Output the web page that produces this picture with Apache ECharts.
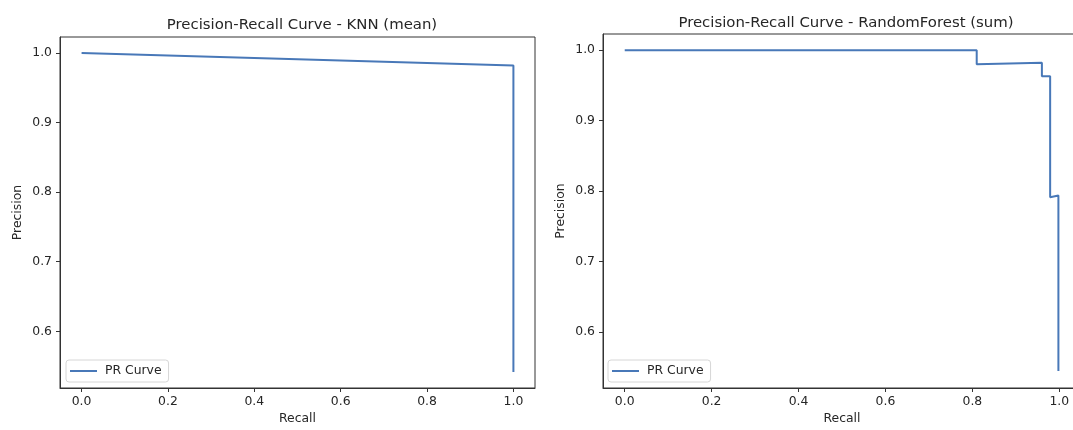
<!DOCTYPE html>
<html>
<head>
<meta charset="utf-8">
<script src="https://cdn.jsdelivr.net/npm/echarts@6/dist/echarts.min.js"></script>
<style>
  html, body { margin: 0; padding: 0; background: #fff; overflow: hidden; width: 1073px; height: 430px; }
  #chart { width: 1090px; height: 430px; }
</style>
</head>
<body>
<div id="chart"></div>
<script>
// Data
const knnRecall = [0.0, 1.0, 1.0];
const knnPrecision = [1.0, 0.982, 0.5415];

const rfRecall = [0.0, 0.81, 0.81, 0.96, 0.96, 0.979, 0.979, 0.998, 0.998];
const rfPrecision = [1.0, 1.0, 0.980, 0.982, 0.963, 0.963, 0.791, 0.7935, 0.5444];

const xTicks = [0.0, 0.2, 0.4, 0.6, 0.8, 1.0];
const yTicks = [0.6, 0.7, 0.8, 0.9, 1.0];

const titles = ['Precision-Recall Curve - KNN (mean)', 'Precision-Recall Curve - RandomForest (sum)'];
const seriesName = 'PR Curve';

const lineColor = '#4878b8';
const textColor = '#262626';
const font = 'DejaVu Sans';

function pairs(xs, ys) {
    return xs.map((x, i) => [x, ys[i]]);
}

function xAxisFor(gridIndex) {
    return {
        type: 'value',
        gridIndex: gridIndex,
        min: -0.05, max: 1.05,
        name: 'Recall',
        nameLocation: 'middle',
        nameGap: 25,
        nameTextStyle: { color: textColor, fontFamily: font, fontSize: 12.4 },
        splitLine: { show: false },
        axisLine: { show: true, onZero: false, lineStyle: { color: '#333', width: 1 } },
        axisTick: { show: true, customValues: xTicks, length: 4, lineStyle: { color: '#333' } },
        axisLabel: {
            customValues: xTicks,
            margin: 8,
            color: textColor, fontFamily: font, fontSize: 12.4,
            formatter: v => v.toFixed(1)
        }
    };
}

function yAxisFor(gridIndex, min) {
    return {
        type: 'value',
        gridIndex: gridIndex,
        min: min, max: 1.0229,
        name: 'Precision',
        nameLocation: 'middle',
        nameGap: 36,
        nameTextStyle: { color: textColor, fontFamily: font, fontSize: 12.4 },
        splitLine: { show: false },
        axisLine: { show: true, onZero: false, lineStyle: { color: '#333', width: 1 } },
        axisTick: { show: true, customValues: yTicks, length: 4, lineStyle: { color: '#333' } },
        axisLabel: {
            customValues: yTicks,
            margin: 8,
            color: textColor, fontFamily: font, fontSize: 12.4,
            formatter: v => v.toFixed(1)
        }
    };
}

function legendFor(left) {
    return {
        left: left, top: 360,
        orient: 'vertical',
        data: [seriesName],
        icon: 'rect',
        itemWidth: 27, itemHeight: 2,
        padding: [5, 7, 5, 4],
        borderColor: '#d6d6d6', borderWidth: 1, borderRadius: 3,
        backgroundColor: 'rgba(255,255,255,0.8)',
        textStyle: { color: textColor, fontFamily: font, fontSize: 12.4, padding: [0, 0, 0, 3] }
    };
}

const chart = echarts.init(document.getElementById('chart'));

chart.setOption({
    backgroundColor: '#fff',
    animation: false,
    title: [
        { text: titles[0], left: 297, top: 13, textAlign: 'center',
          textStyle: { color: textColor, fontFamily: font, fontSize: 14.9, fontWeight: 'normal' } },
        { text: titles[1], left: 841, top: 11, textAlign: 'center',
          textStyle: { color: textColor, fontFamily: font, fontSize: 14.9, fontWeight: 'normal' } }
    ],
    grid: [
        { left: 60, top: 37, width: 475, height: 354, show: true, borderColor: '#333', borderWidth: 1, backgroundColor: 'transparent' },
        { left: 603, top: 34, width: 478, height: 357, show: true, borderColor: '#333', borderWidth: 1, backgroundColor: 'transparent' }
    ],
    xAxis: [xAxisFor(0), xAxisFor(1)],
    yAxis: [yAxisFor(0, 0.5186), yAxisFor(1, 0.5202)],
    legend: [legendFor(66), legendFor(608)],
    series: [
        {
            name: seriesName, type: 'line',
            xAxisIndex: 0, yAxisIndex: 0,
            data: pairs(knnRecall, knnPrecision),
            showSymbol: false, symbol: 'none',
            lineStyle: { color: lineColor, width: 2 },
            itemStyle: { color: lineColor }
        },
        {
            name: seriesName, type: 'line',
            xAxisIndex: 1, yAxisIndex: 1,
            data: pairs(rfRecall, rfPrecision),
            showSymbol: false, symbol: 'none',
            lineStyle: { color: lineColor, width: 2 },
            itemStyle: { color: lineColor }
        }
    ]
});
</script>
</body>
</html>
